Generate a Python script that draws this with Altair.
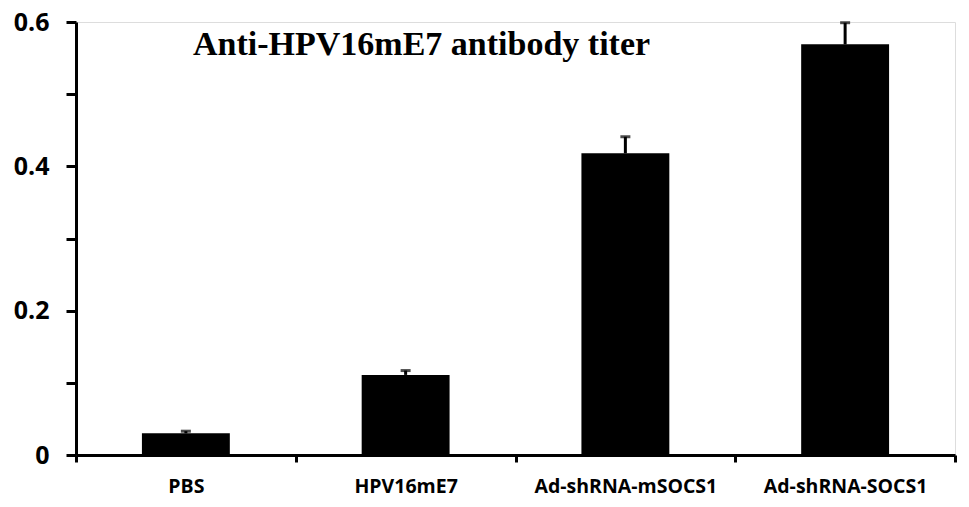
import altair as alt
import pandas as pd

categories = ["PBS", "HPV16mE7", "Ad-shRNA-mSOCS1", "Ad-shRNA-SOCS1"]
values = [0.030, 0.111, 0.418, 0.569]
errors = [0.003, 0.006, 0.023, 0.030]
y_ticks = [0, 0.1, 0.2, 0.3, 0.4, 0.5, 0.6]
title_text = ["Anti-HPV16mE7 antibody titer"]

df = pd.DataFrame({"group": categories, "value": values, "err": errors})
df["upper"] = df["value"] + df["err"]

x_enc = alt.X(
    "group:N",
    sort=categories,
    scale=alt.Scale(paddingInner=0, paddingOuter=0),
    axis=alt.Axis(
        title=None, labelAngle=0, tickBand="extent", domainColor="black",
        domainWidth=3, tickColor="black", tickWidth=3, tickSize=7,
        labelFont="Open Sans", labelFontWeight="bold", labelFontSize=19.5,
        labelColor="black", labelPadding=15, labelLimit=400,
    ),
)
y_scale = alt.Scale(domain=[0, 0.6], nice=False)

bars = alt.Chart(df).mark_bar(color="black", width={"band": 0.4}).encode(
    x=x_enc,
    y=alt.Y(
        "value:Q",
        scale=y_scale,
        axis=alt.Axis(
            title=None, values=y_ticks, format=".1~f",
            labelExpr="round(datum.value*10)%2==0 ? datum.label : ''",
            grid=False, domainColor="black", domainWidth=3,
            tickColor="black", tickWidth=3, tickSize=10,
            labelFont="Open Sans", labelFontWeight="bold", labelFontSize=25,
            labelColor="black", labelPadding=17,
        ),
    ),
)

stems = alt.Chart(df).mark_rule(color="black", strokeWidth=3).encode(
    x=alt.X("group:N", sort=categories),
    y=alt.Y("value:Q", scale=y_scale),
    y2="upper:Q",
)

caps = alt.Chart(df).mark_tick(color="black", orient="horizontal", size=10, thickness=3).encode(
    x=alt.X("group:N", sort=categories),
    y=alt.Y("upper:Q", scale=y_scale),
)

title = alt.Chart(pd.DataFrame({"t": title_text})).mark_text(
    font="Liberation Serif", fontSize=34, fontWeight="bold", color="black",
    align="left", baseline="alphabetic",
).encode(text="t:N", x=alt.value(117), y=alt.value(33))

chart = (
    alt.layer(bars, stems, caps, title)
    .properties(
        width=879,
        height=433,
        autosize=alt.AutoSizeParams(type="none"),
        padding={"left": 68, "top": 14, "right": 6, "bottom": 60},
    )
    .configure_view(stroke=None)
    .configure(background="white")
)

chart.save("out.html", embed_options={"renderer": "svg", "actions": False})
